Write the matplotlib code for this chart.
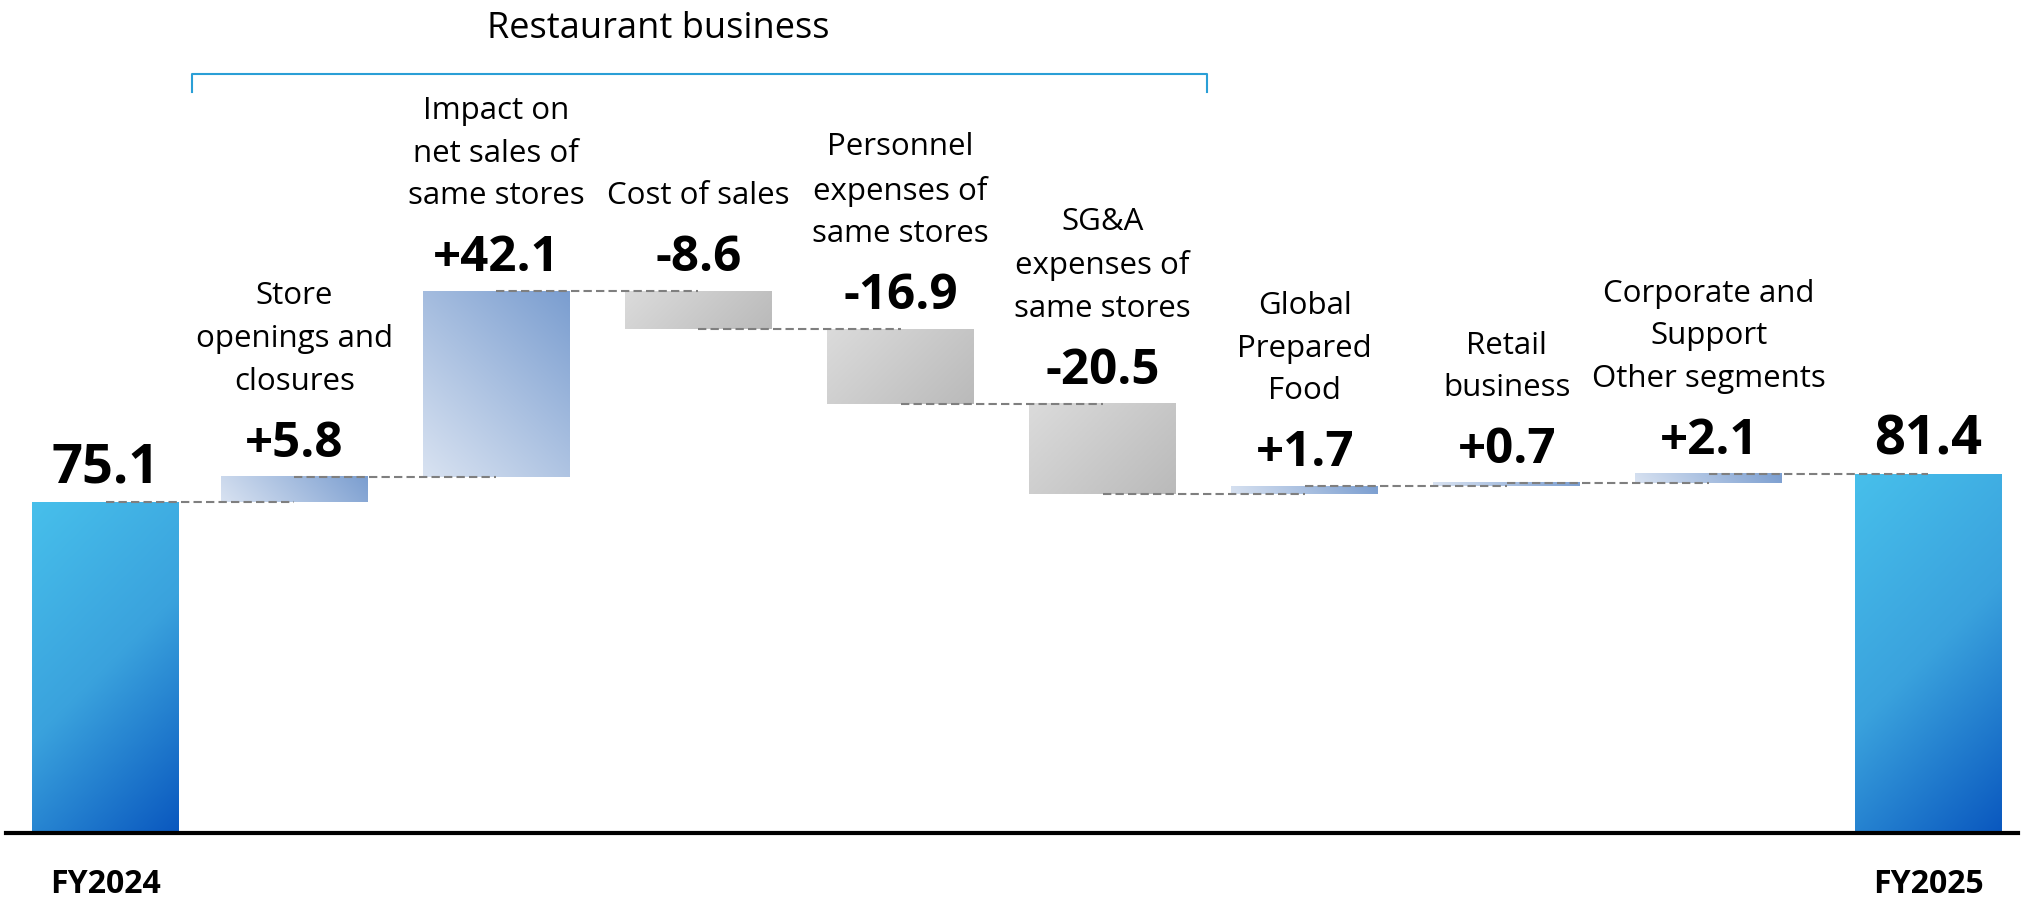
import numpy as np
import matplotlib
matplotlib.use("Agg")
import matplotlib.pyplot as plt
from matplotlib.colors import LinearSegmentedColormap

plt.rcParams['font.family'] = ['Open Sans', 'DejaVu Sans']

# data
categories = ["FY2024",
              "Store\nopenings and\nclosures",
              "Impact on\nnet sales of\nsame stores",
              "Cost of sales",
              "Personnel\nexpenses of\nsame stores",
              "SG&A\nexpenses of\nsame stores",
              "Global\nPrepared\nFood",
              "Retail\nbusiness",
              "Corporate and\nSupport\nOther segments",
              "FY2025"]
start_value = 75.1
changes = [5.8, 42.1, -8.6, -16.9, -20.5, 1.7, 0.7, 2.1]
end_value = 81.4
group_label = "Restaurant business"

# gradient colour maps
cm_total = LinearSegmentedColormap.from_list("total", ["#47bfeb", "#3aa2dd", "#0a58bf"])
cm_up = LinearSegmentedColormap.from_list("up", ["#d8e2f1", "#7b9ed0"])
cm_down = LinearSegmentedColormap.from_list("down", ["#dbdbdb", "#bababa"])

fig = plt.figure(figsize=(20.22, 9.07), dpi=100)
ax = fig.add_axes([0, 0, 1, 1])
ax.axis('off')

xlim = (-0.456, 9.549)
ylim = (-16.8, 189.1)
px_x = fig.get_figwidth() * fig.dpi / (xlim[1] - xlim[0])
px_y = fig.get_figheight() * fig.dpi / (ylim[1] - ylim[0])

n = 80
xx, yy = np.meshgrid(np.linspace(0, 1, n), np.linspace(0, 1, n))


def grad_bar(ax, x, bottom, top, width, cmap, from_top):
    # 45 degree gradient in screen space
    w = width * px_x
    h = (top - bottom) * px_y
    if from_top:   # light top-left -> dark bottom-right
        t = (xx * w + (1 - yy) * h) / (w + h)
    else:          # light bottom-left -> dark top-right
        t = (xx * w + yy * h) / (w + h)
    ax.imshow(cmap(t), extent=[x - width / 2, x + width / 2, bottom, top],
              origin='lower', aspect='auto', interpolation='bicubic', zorder=2)


width = 0.727
xs = np.arange(len(categories), dtype=float)
xs[0] += 0.068
xs[-1] += 0.084

# build bars
levels = [start_value]
bottoms, tops = [0], [start_value]
for c in changes:
    prev = levels[-1]
    levels.append(prev + c)
    bottoms.append(min(prev, prev + c))
    tops.append(max(prev, prev + c))
bottoms.append(0)
tops.append(end_value)
levels.append(end_value)

for i, x in enumerate(xs):
    if i == 0 or i == len(xs) - 1:
        grad_bar(ax, x, bottoms[i], tops[i], width, cm_total, True)
    elif changes[i - 1] > 0:
        grad_bar(ax, x, bottoms[i], tops[i], width, cm_up, False)
    else:
        grad_bar(ax, x, bottoms[i], tops[i], width, cm_down, True)

# connectors
for i in range(len(xs) - 1):
    ax.plot([xs[i], xs[i + 1]], [levels[i], levels[i]], color='#7f7f7f',
            lw=1.5, linestyle=(0, (4, 2)), zorder=3)

# value labels and category labels
for i, x in enumerate(xs):
    if i == 0 or i == len(xs) - 1:
        txt = f"{tops[i]:.1f}"
        fs = 39
    else:
        txt = f"{changes[i - 1]:+.1f}"
        fs = 35.5
    ax.annotate(txt, (x, tops[i]), xytext=(0, 14.4), textcoords='offset points',
                ha='center', va='baseline', fontsize=fs, fontweight='bold',
                color='black', zorder=4)
    if 0 < i < len(xs) - 1:
        ax.annotate(categories[i], (x, tops[i]), xytext=(0, 57.5), textcoords='offset points',
                    ha='center', va='bottom', fontsize=22.5, linespacing=1.55,
                    color='black', zorder=4)

# FY labels under axis
for i in (0, len(xs) - 1):
    ax.text(xs[i], -11.6, categories[i], ha='center', va='center',
            fontsize=23, fontweight='bold', color='black')

# baseline
ax.axhline(0, xmin=0.003, xmax=0.998, color='black', lw=3, zorder=5)

# restaurant bracket
bx0, bx1, by, bdrop = 0.494, 5.517, 172.4, 4.2
ax.plot([bx0, bx0, bx1, bx1], [by - bdrop, by, by, by - bdrop], color='#2a9fd6',
        lw=1.5, solid_joinstyle='round', zorder=3)
ax.text(2.8, 180.5, group_label, ha='center', va='baseline', fontsize=26, color='black')

ax.set_xlim(*xlim)
ax.set_ylim(*ylim)

fig.savefig("out.png", dpi=100)
